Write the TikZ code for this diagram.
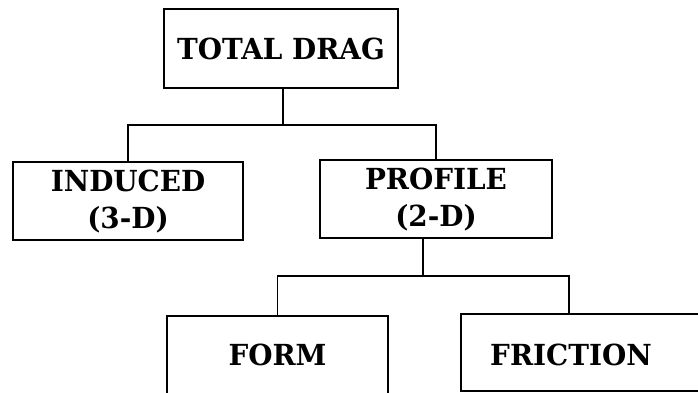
\documentclass[tikz,border=0pt]{standalone}
\usepackage{fontspec}
\setmainfont[FakeStretch=0.96]{DejaVu Serif}
\begin{document}
\begin{tikzpicture}[x=1pt,y=1pt,
  box/.style={draw, line width=1.8pt, inner sep=0pt, align=center,
    font=\bfseries\fontsize{29}{37}\selectfont},
  lbl/.style={inner sep=0pt, font=\bfseries\fontsize{29}{37}\selectfont},
  link/.style={line width=1.8pt}]
  \path[use as bounding box, clip] (0,0) rectangle (698,392);
  \fill[white] (0,0) rectangle (698,392);

  % boxes (y measured upward from the bottom edge)
  \node[box, minimum width=234, minimum height=79] (total) at (281,343.5) {TOTAL DRAG};
  \node[box, minimum width=230, minimum height=78] (induced) at (128,191) {INDUCED\\(3-D)};
  \node[box, minimum width=232, minimum height=78] (profile) at (436,193) {PROFILE\\(2-D)};
  \node[box, minimum width=221, minimum height=78] (form) at (277.5,37) {FORM};
  \node[box, minimum width=250, minimum height=77, anchor=north west] (friction) at (460,79) {};
  \node[lbl] (frictiontext) at (571,37) {FRICTION};

  % junction points of the connector tree
  \coordinate (j1) at (283,267);
  \coordinate (j2) at (423,116);
  \coordinate (fdrop) at (569,79);

  % connectors
  \draw[link] (total.south -| j1) -- (j1);
  \draw[link] (induced.north) |- (j1) -| (profile.north);
  \draw[link] (profile.south -| j2) -- (j2);
  \draw[link] (form.north) |- (j2) -| (fdrop);
\end{tikzpicture}
\end{document}
